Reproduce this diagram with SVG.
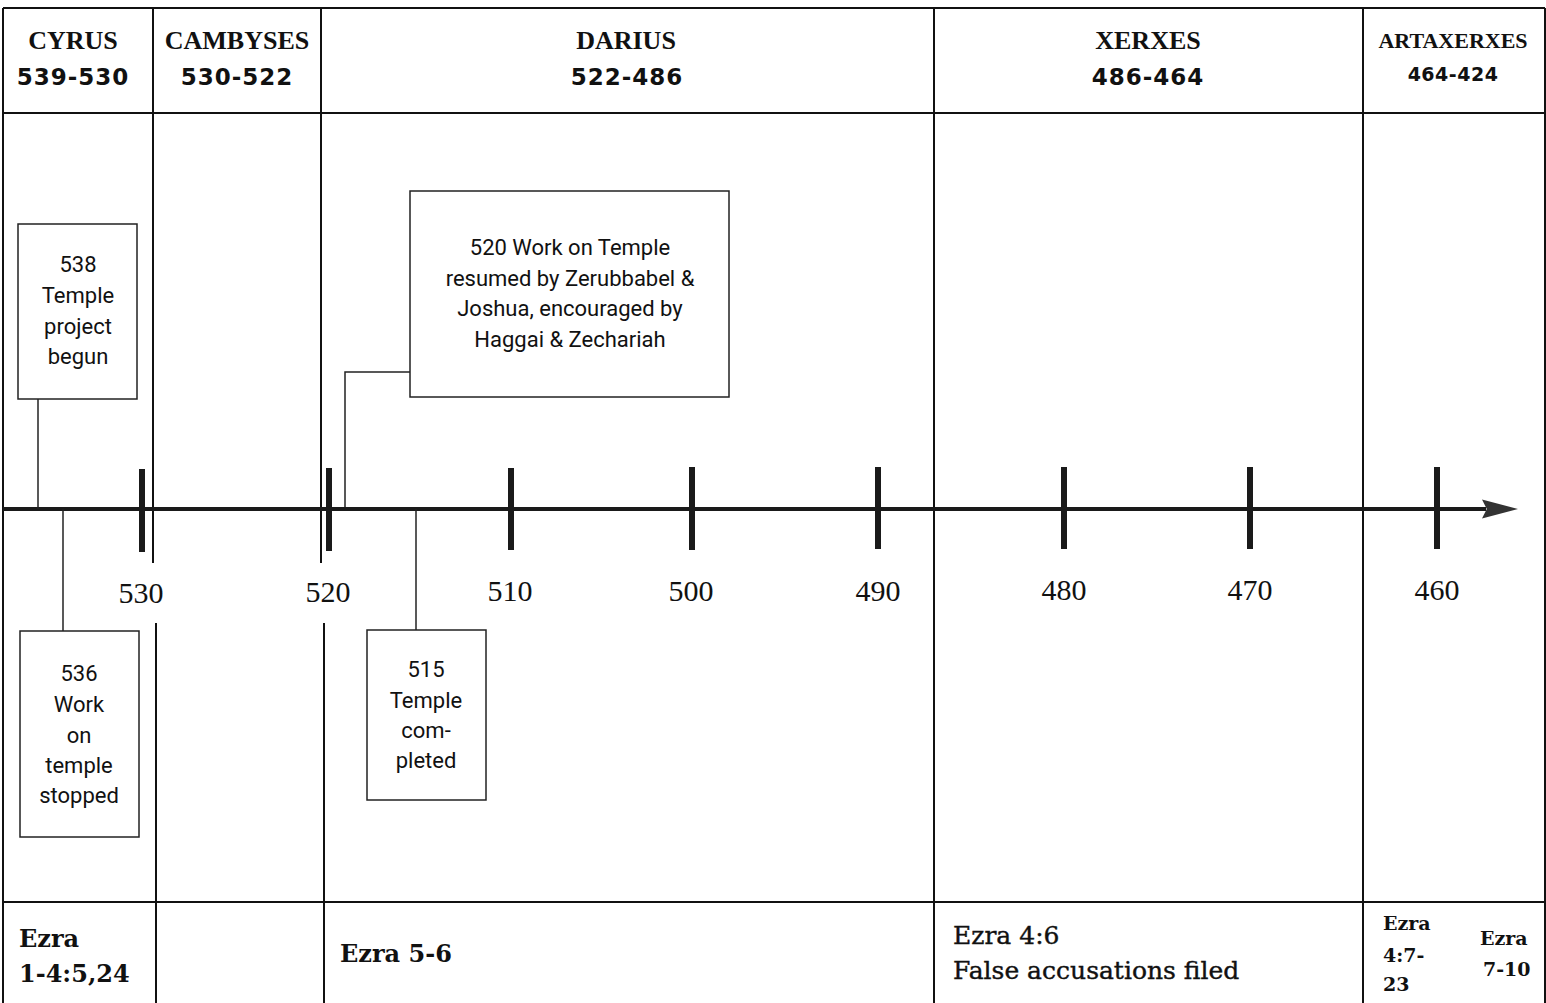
<svg xmlns="http://www.w3.org/2000/svg" width="1546" height="1003" viewBox="0 0 1546 1003">
<style>
  .frame { stroke: #111; stroke-width: 2; fill: none; }
  .div { stroke: #111; stroke-width: 2; fill: none; }
  .king { font-family: "Liberation Serif", serif; font-weight: bold; font-size: 26px; fill: #111; text-anchor: middle; }
  .dates { font-family: "DejaVu Sans", sans-serif; font-weight: bold; font-size: 23px; letter-spacing: 1px; fill: #111; text-anchor: middle; }
  .year { font-family: "Liberation Serif", serif; font-size: 30px; fill: #111; text-anchor: middle; }
  .box { fill: #fff; stroke: #222; stroke-width: 1.5; }
  .btxt { font-family: Roboto, sans-serif; font-size: 22px; fill: #111; text-anchor: middle; }
  .conn { stroke: #222; stroke-width: 1.5; fill: none; }
  .tick { fill: #1a1a1a; }
  .ref { font-family: "DejaVu Serif", serif; font-weight: bold; font-size: 24px; fill: #111; }
  .refn { font-family: "DejaVu Serif", serif; font-size: 25px; fill: #111; stroke: #111; stroke-width: 0.4; }
  .refs { font-family: "DejaVu Serif", serif; font-weight: bold; font-size: 19px; fill: #111; }
</style>
<defs>
  <marker id="arrow" markerWidth="10" markerHeight="6" refX="1" refY="3" orient="auto" markerUnits="strokeWidth">
    <path d="M0,0.6 L9,3 L0,5.4 L1.2,3 Z" fill="#333"/>
  </marker>
</defs>
<rect width="1546" height="1003" fill="#fff"/>

<g id="frame">
  <line class="frame" x1="3" y1="8" x2="1545" y2="8"/>
  <line class="frame" x1="3" y1="8" x2="3" y2="1003"/>
  <line class="frame" x1="1545" y1="8" x2="1545" y2="1003"/>
  <line class="frame" x1="3" y1="113" x2="1545" y2="113"/>
  <line class="frame" x1="3" y1="902" x2="1545" y2="902"/>
  <line class="div" x1="153" y1="8" x2="153" y2="563"/>
  <line class="div" x1="156" y1="623" x2="156" y2="1003"/>
  <line class="div" x1="321" y1="8" x2="321" y2="563"/>
  <line class="div" x1="324" y1="623" x2="324" y2="1003"/>
  <line class="div" x1="934" y1="8" x2="934" y2="1003"/>
  <line class="div" x1="1363" y1="8" x2="1363" y2="1003"/>
</g>

<g id="headers">
  <text class="king" x="73" y="49">CYRUS</text>
  <text class="dates" x="73" y="85">539-530</text>
  <text class="king" x="237" y="49">CAMBYSES</text>
  <text class="dates" x="237" y="85">530-522</text>
  <text class="king" x="626" y="49">DARIUS</text>
  <text class="dates" x="627" y="85">522-486</text>
  <text class="king" x="1148" y="49">XERXES</text>
  <text class="dates" x="1148" y="85">486-464</text>
  <text class="king" x="1453" y="48" style="font-size:22px">ARTAXERXES</text>
  <text class="dates" x="1453" y="81" style="font-size:19px;letter-spacing:0.5px">464-424</text>
</g>

<g id="axis">
  <line x1="3" y1="509" x2="1486" y2="509" stroke="#1a1a1a" stroke-width="4" marker-end="url(#arrow)"/>
  <rect class="tick" x="139" y="469" width="6" height="83"/>
  <rect class="tick" x="326" y="468" width="6" height="83"/>
  <rect class="tick" x="508" y="468" width="6" height="82"/>
  <rect class="tick" x="689" y="467" width="6" height="83"/>
  <rect class="tick" x="875" y="467" width="6" height="82"/>
  <rect class="tick" x="1061" y="467" width="6" height="82"/>
  <rect class="tick" x="1247" y="467" width="6" height="82"/>
  <rect class="tick" x="1434" y="467" width="6" height="82"/>
  <text class="year" x="141" y="603">530</text>
  <text class="year" x="328" y="602">520</text>
  <text class="year" x="510" y="601">510</text>
  <text class="year" x="691" y="601">500</text>
  <text class="year" x="878" y="601">490</text>
  <text class="year" x="1064" y="600">480</text>
  <text class="year" x="1250" y="600">470</text>
  <text class="year" x="1437" y="600">460</text>
</g>

<g id="connectors">
  <line class="conn" x1="38" y1="399" x2="38" y2="509"/>
  <line class="conn" x1="63" y1="509" x2="63" y2="631"/>
  <polyline class="conn" points="410,372 345,372 345,507"/>
  <line class="conn" x1="416" y1="509" x2="416" y2="630"/>
</g>

<g id="box538">
  <rect class="box" x="18" y="224" width="119" height="175"/>
  <text class="btxt" x="78" y="272">538</text>
  <text class="btxt" x="78" y="303">Temple</text>
  <text class="btxt" x="78" y="334">project</text>
  <text class="btxt" x="78" y="364">begun</text>
</g>

<g id="box536">
  <rect class="box" x="20" y="631" width="119" height="206"/>
  <text class="btxt" x="79" y="681">536</text>
  <text class="btxt" x="79" y="712">Work</text>
  <text class="btxt" x="79" y="743">on</text>
  <text class="btxt" x="79" y="773">temple</text>
  <text class="btxt" x="79" y="803">stopped</text>
</g>

<g id="box520">
  <rect class="box" x="410" y="191" width="319" height="206"/>
  <text class="btxt" x="570" y="255">520 Work on Temple</text>
  <text class="btxt" x="570" y="286">resumed by Zerubbabel &amp;</text>
  <text class="btxt" x="570" y="316">Joshua, encouraged by</text>
  <text class="btxt" x="570" y="347">Haggai &amp; Zechariah</text>
</g>

<g id="box515">
  <rect class="box" x="367" y="630" width="119" height="170"/>
  <text class="btxt" x="426" y="677">515</text>
  <text class="btxt" x="426" y="708">Temple</text>
  <text class="btxt" x="426" y="738">com-</text>
  <text class="btxt" x="426" y="768">pleted</text>
</g>

<g id="references">
  <text class="ref" x="19" y="947">Ezra</text>
  <text class="ref" x="19" y="982">1-4:5,24</text>
  <text class="ref" x="340" y="962">Ezra 5-6</text>
  <text class="refn" x="953" y="944">Ezra 4:6</text>
  <text class="refn" x="953" y="979">False accusations filed</text>
  <text class="refs" x="1383" y="930">Ezra</text>
  <text class="refs" x="1383" y="962">4:7-</text>
  <text class="refs" x="1383" y="991">23</text>
  <text class="refs" x="1480" y="945">Ezra</text>
  <text class="refs" x="1483" y="976">7-10</text>
</g>
</svg>
